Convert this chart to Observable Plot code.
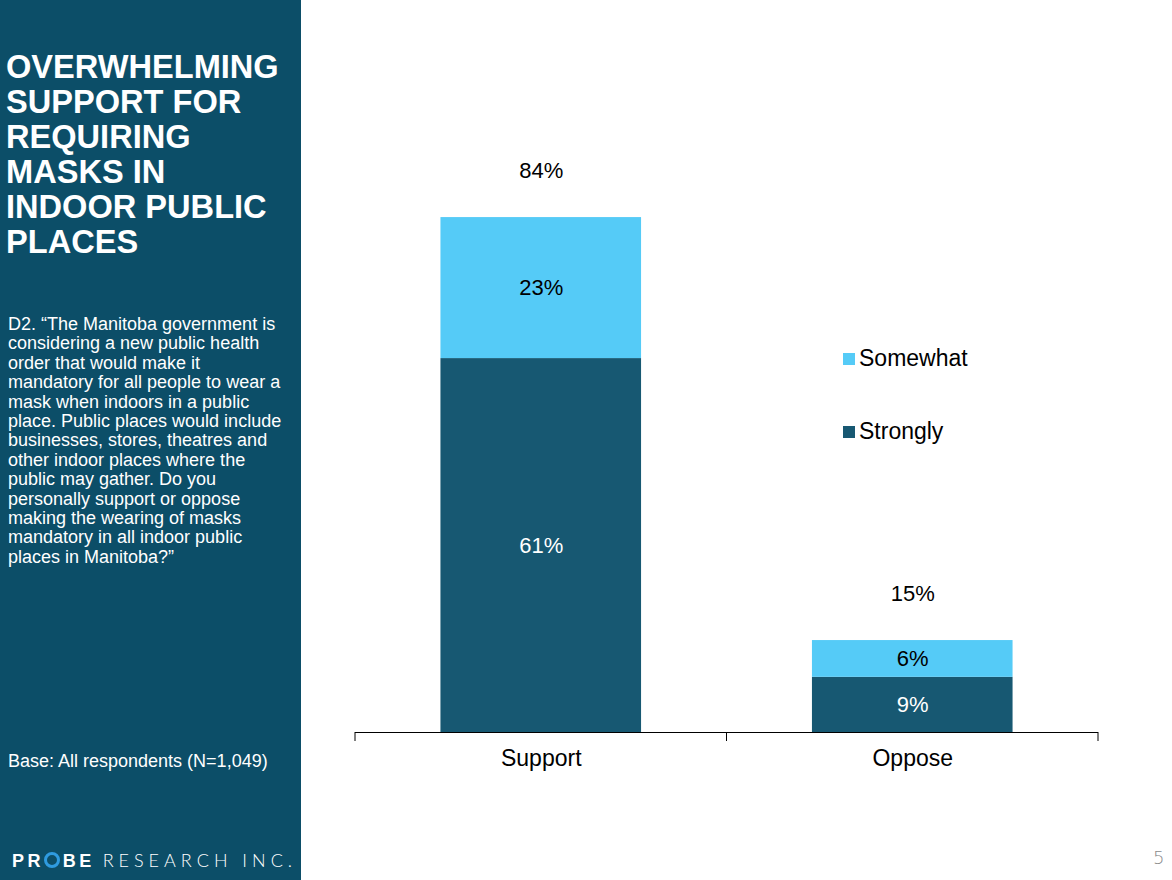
<!DOCTYPE html>
<html>
<head>
<meta charset="utf-8">
<script src="https://cdn.jsdelivr.net/npm/d3@7"></script>
<script src="https://cdn.jsdelivr.net/npm/@observablehq/plot@0.6"></script>
<style>
  html, body { margin: 0; padding: 0; background: #fff; }
  #page { position: relative; width: 1172px; height: 880px; overflow: hidden; font-family: "Liberation Sans", Arial, sans-serif; }
  #panel { position: absolute; left: 0; top: 0; width: 301px; height: 880px; background: #0c4e68; color: #fff; }
  #title { position: absolute; left: 6px; top: 49px; width: 292px; font-size: 32.6px; font-weight: bold; line-height: 35px; }
  #question { position: absolute; left: 8px; top: 315px; width: 293px; font-size: 18px; line-height: 19.4px; white-space: nowrap; }
  #base { position: absolute; left: 8px; top: 751px; font-size: 18px; line-height: 20px; }
  #logo { position: absolute; left: 12px; top: 849px; font-size: 18px; line-height: 22px; white-space: nowrap; }
  #logo .b { font-weight: bold; letter-spacing: 3.4px; }
  #logo .l { font-family: "Lato", "Open Sans", sans-serif; font-weight: 300; letter-spacing: 5px; margin-left: 8px; }
  #logo .ring { display: inline-block; width: 10px; height: 10px; border: 3px solid #2f9be0; border-radius: 50%; margin-right: 3px; vertical-align: -1px; }
  #chart { position: absolute; left: 301px; top: 0; }
  #legend { position: absolute; left: 843px; top: 0; font-size: 23px; color: #000; }
  .li { position: absolute; white-space: nowrap; line-height: 26px; }
  .sw { display: inline-block; width: 12px; height: 12px; margin-right: 4px; vertical-align: 1px; }
  #pnum { position: absolute; left: 1153px; top: 847px; font-size: 18px; color: #8a8a8a; font-family: "DejaVu Sans", sans-serif; font-weight: 300; }
</style>
</head>
<body>
<div id="page">
  <div id="panel">
    <div id="title">OVERWHELMING SUPPORT FOR REQUIRING MASKS IN INDOOR PUBLIC PLACES</div>
    <div id="question">D2. “The Manitoba government is<br>considering a new public health<br>order that would make it<br>mandatory for all people to wear a<br>mask when indoors in a public<br>place. Public places would include<br>businesses, stores, theatres and<br>other indoor places where the<br>public may gather. Do you<br>personally support or oppose<br>making the wearing of masks<br>mandatory in all indoor public<br>places in Manitoba?”</div>
    <div id="base">Base: All respondents (N=1,049)</div>
    <div id="logo"><span class="b">PR</span><span class="ring"></span><span class="b">BE</span><span class="l">RESEARCH INC.</span></div>
  </div>
  <div id="chart"></div>
  <div id="legend"></div>
  <div id="pnum">5</div>
</div>
<script>
// ---- data ----
const categories = ["Support", "Oppose"];
const series = ["Strongly", "Somewhat"];
const strongly = [61, 9];
const somewhat = [23, 6];
const totals = [84, 15];
const seriesColors = ["#175872", "#55cbf7"];
const labelColors = ["#ffffff", "#000000"];
const legendOrder = ["Somewhat", "Strongly"];

const rows = categories.flatMap((c, i) => [
  {category: c, series: "Strongly", value: strongly[i]},
  {category: c, series: "Somewhat", value: somewhat[i]}
]);
const totalRows = categories.map((c, i) => ({category: c, value: totals[i]}));
const labelColor = s => labelColors[series.indexOf(s)];

const plot = Plot.plot({
  width: 871,
  height: 880,
  marginLeft: 54,
  marginRight: 74,
  marginTop: 119,
  marginBottom: 148,
  style: {fontFamily: "Liberation Sans, Arial, sans-serif", background: "transparent"},
  x: {domain: categories, paddingInner: 0.46, paddingOuter: 0.23, round: false, label: null},
  y: {domain: [0, 100], axis: null},
  color: {domain: series, range: seriesColors},
  marks: [
    Plot.barY(rows, {x: "category", y: "value", fill: "series", order: series}),
    Plot.text(rows, Plot.stackY({x: "category", y: "value", z: "series", order: series,
      text: d => d.value + "%", fill: d => labelColor(d.series), fontSize: 22})),
    Plot.text(totalRows, {x: "category", y: "value", text: d => d.value + "%", dy: -47, fontSize: 22, fill: "#000"}),
    Plot.ruleY([0], {stroke: "#000", strokeWidth: 1}),
    Plot.axisX({tickSize: 0, tickPadding: 17, fontSize: 23, fill: "#000", label: null})
  ]
});
document.getElementById("chart").appendChild(plot);

// boundary ticks between category bands, from the plot's own x scale
const sx = plot.scale("x");
const sy = plot.scale("y");
const step = sx.step, bw = sx.bandwidth;
const gap = (step - bw) / 2;
const bounds = categories.map(c => sx.apply(c) - gap).concat([sx.apply(categories[categories.length - 1]) + bw + gap]);
const y0 = sy.apply(0);
d3.select(plot).append("g")
  .selectAll("line").data(bounds).join("line")
  .attr("x1", d => d).attr("x2", d => d)
  .attr("y1", y0).attr("y2", y0 + 9)
  .attr("stroke", "#000").attr("stroke-width", 1);

// legend
const legendTops = {Somewhat: 345, Strongly: 418};
const leg = d3.select("#legend");
legendOrder.forEach(s => {
  const item = leg.append("div").attr("class", "li").style("top", legendTops[s] + "px");
  item.append("span").attr("class", "sw").style("background", seriesColors[series.indexOf(s)]);
  item.append("span").text(s);
});
</script>
</body>
</html>
